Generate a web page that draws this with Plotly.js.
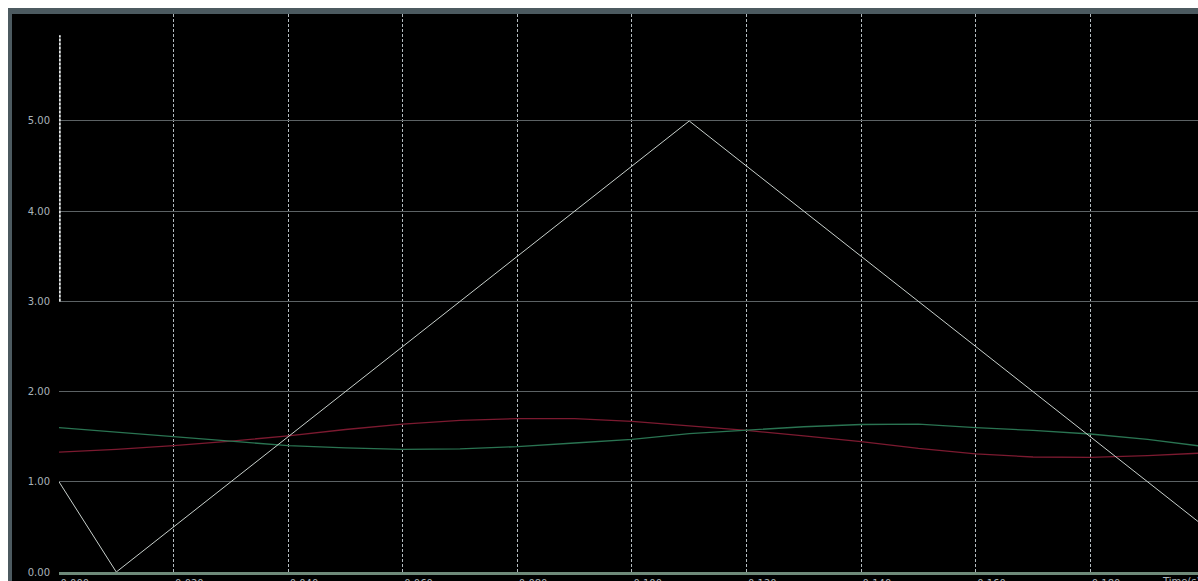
<!DOCTYPE html>
<html>
<head>
<meta charset="utf-8">
<script src="https://cdn.plot.ly/plotly-3.0.1.min.js"></script>
<style>
  html, body { margin: 0; padding: 0; background: #ffffff; }
  #chart { width: 1198px; height: 581px; }
</style>
</head>
<body>
<div id="chart"></div>
<script>
// Sample times (s)
const time = [0.00, 0.01, 0.02, 0.03, 0.04, 0.05, 0.06, 0.07, 0.08, 0.09, 0.10,
              0.11, 0.12, 0.13, 0.14, 0.15, 0.16, 0.17, 0.18, 0.19, 0.20];
// Red channel
const redSeries = [1.33, 1.36, 1.40, 1.45, 1.51, 1.58, 1.64, 1.68, 1.70, 1.70, 1.67,
                   1.62, 1.57, 1.51, 1.445, 1.37, 1.31, 1.275, 1.27, 1.29, 1.32];
// Green channel
const greenSeries = [1.60, 1.55, 1.50, 1.45, 1.40, 1.375, 1.36, 1.365, 1.39, 1.43, 1.47,
                     1.535, 1.575, 1.61, 1.635, 1.64, 1.60, 1.57, 1.53, 1.47, 1.39];
// Triangle ramp vertices
const rampTime = [0.00, 0.01, 0.11, 0.21];
const rampValue = [1.00, 0.00, 5.00, 0.00];
// Vertical marker at t = 0
const markerTime = [0.00, 0.00];
const markerValue = [3.00, 5.95];

const xTicks = [0, 0.02, 0.04, 0.06, 0.08, 0.10, 0.12, 0.14, 0.16, 0.18];
const yTicks = [0, 1, 2, 3, 4, 5];

const traces = [
  { x: time, y: redSeries, mode: 'lines', line: { color: '#7c1a30', width: 1.3 }, hoverinfo: 'skip' },
  { x: time, y: greenSeries, mode: 'lines', line: { color: '#2a7452', width: 1.3 }, hoverinfo: 'skip' },
  { x: rampTime, y: rampValue, mode: 'lines', line: { color: '#c8d0cc', width: 1 }, hoverinfo: 'skip' },
  { x: markerTime, y: markerValue, mode: 'lines', line: { color: '#e6eaea', width: 3.5, dash: '3px,1px' }, hoverinfo: 'skip', cliponaxis: false }
];

// plot area: x 59..1198 px, y 14..572 px
const W = 1139, H = 558;
const px = v => (v - 59) / W;
const py = v => (572 - v) / H;

const tickFont = { family: 'DejaVu Sans, sans-serif', size: 10, color: '#a9b3ba' };

const layout = {
  width: 1198, height: 581,
  margin: { l: 59, r: 0, t: 14, b: 9, pad: 0 },
  paper_bgcolor: '#ffffff',
  plot_bgcolor: '#000000',
  showlegend: false,
  xaxis: {
    range: [0, 0.1988],
    tickvals: xTicks,
    tickformat: '.3f',
    ticks: '',
    ticklabelposition: 'outside right',
    showgrid: true,
    gridcolor: '#b4bcc0',
    gridwidth: 1,
    griddash: '3px,2px',
    zeroline: false,
    showline: true,
    linecolor: '#6f8a7a',
    linewidth: 3,
    tickfont: tickFont,
    fixedrange: true
  },
  yaxis: {
    range: [0, 6.186],
    tickvals: yTicks,
    tickformat: '.2f',
    ticks: '',
    showgrid: true,
    gridcolor: '#5c6264',
    gridwidth: 1,
    zeroline: false,
    showline: false,
    ticklabelstandoff: 8,
    tickfont: tickFont,
    fixedrange: true
  },
  shapes: [
    // outer frame
    { type: 'rect', xref: 'paper', yref: 'paper', layer: 'below',
      x0: px(8), x1: px(1200), y0: py(600), y1: py(8),
      fillcolor: '#4c5a60', line: { width: 0 } },
    // dark panel
    { type: 'rect', xref: 'paper', yref: 'paper', layer: 'below',
      x0: px(12), x1: px(1200), y0: py(600), y1: py(14),
      fillcolor: '#000000', line: { width: 0 } }
  ],
  annotations: [
    { text: 'Time(s)', xref: 'paper', yref: 'paper', x: px(1160), y: py(574),
      xanchor: 'left', yanchor: 'top', showarrow: false,
      font: tickFont }
  ]
};

Plotly.newPlot('chart', traces, layout, { displayModeBar: false, staticPlot: true });
</script>
</body>
</html>
